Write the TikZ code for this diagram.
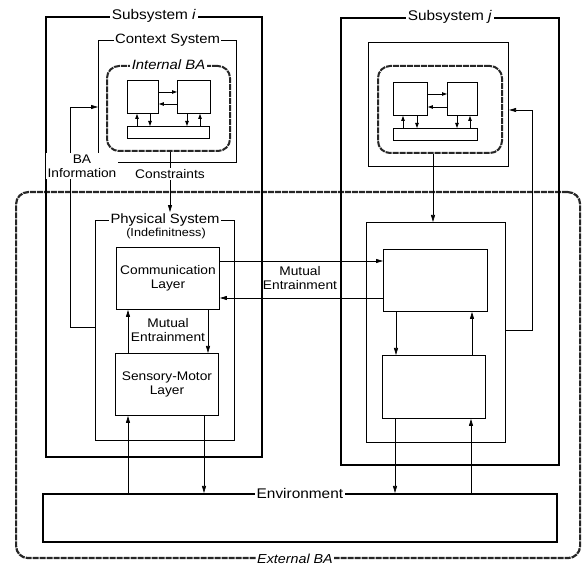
\documentclass[tikz,border=0pt]{standalone}
\usepackage{fontspec}
\setmainfont[FakeStretch=1.1]{Liberation Sans}
\usetikzlibrary{arrows.meta}
\begin{document}
\begin{tikzpicture}[x=1pt,y=-1pt,
 txt/.style={font=\fontsize{12.5}{14}\selectfont, inner sep=1pt, align=center},
 lbl/.style={txt, fill=white, inner sep=1.5pt},
 biglbl/.style={lbl, font=\fontsize{14}{16}\selectfont},
 bigbox/.style={draw, line width=1.8pt, anchor=north west, inner sep=0pt},
 midbox/.style={draw, line width=1.1pt, anchor=north west, inner sep=0pt},
 smallbox/.style={draw, line width=0.9pt, anchor=north west, inner sep=0pt},
 rough/.style={draw=black!85, line width=2.2pt, dash pattern=on 6pt off 1pt, rounded corners=12pt, anchor=north west, inner sep=0pt},
 arr/.style={line width=0.75pt, -{Triangle[length=7pt,width=4pt]}},
 iarr/.style={line width=0.8pt, -{Triangle[length=5pt,width=3.5pt]}},
]
\useasboundingbox (0,0) rectangle (582,569);

% external BA
\node[rough, minimum width=564pt, minimum height=366pt] (ext) at (15,191) {};

% subsystems
\node[bigbox, minimum width=216pt, minimum height=440pt] (subi) at (45,16) {};
\node[bigbox, minimum width=218pt, minimum height=447pt] (subj) at (340,17) {};
\node[biglbl] (subilbl) at (subi.north) {Subsystem \textit{i}};
\node[biglbl] (subjlbl) at (subj.north) {Subsystem \textit{j}};

% context systems
\node[midbox, minimum width=138pt, minimum height=122pt] (ctxi) at (98,40) {};
\node[midbox, minimum width=140pt, minimum height=124pt] (ctxj) at (368,42) {};
\node[biglbl, font=\fontsize{13.5}{15}\selectfont] (ctxilbl) at (ctxi.north) {Context System};

% internal BA
\node[rough, line width=2pt, minimum width=123pt, minimum height=85pt] (ibai) at (106,65) {};
\node[rough, line width=2pt, minimum width=124pt, minimum height=87pt] (ibaj) at (377,65) {};
\node[lbl, font=\fontsize{13.5}{15}\selectfont\itshape] (ibailbl) at (ibai.north) {Internal BA};

% inner boxes i
\node[smallbox, minimum width=31pt, minimum height=33pt] (ai) at (127,80) {};
\node[smallbox, minimum width=33pt, minimum height=33pt] (bi) at (177,80) {};
\node[smallbox, minimum width=82pt, minimum height=12pt] (ri) at (127,126) {};
\draw[iarr] (ai.east |- 0,92) -- (bi.west |- 0,92);
\draw[iarr] (bi.west |- 0,104) -- (ai.east |- 0,104);
\draw[iarr] (ri.north -| 137,0) -- (ai.south -| 137,0);
\draw[iarr] (ai.south -| 150,0) -- (ri.north -| 150,0);
\draw[iarr] (bi.south -| 187,0) -- (ri.north -| 187,0);
\draw[iarr] (ri.north -| 200,0) -- (bi.south -| 200,0);

% inner boxes j
\node[smallbox, minimum width=34pt, minimum height=33pt] (aj) at (393,82) {};
\node[smallbox, minimum width=30pt, minimum height=33pt] (bj) at (447,82) {};
\node[smallbox, minimum width=84pt, minimum height=12pt] (rj) at (393,128) {};
\draw[iarr] (aj.east |- 0,94) -- (bj.west |- 0,94);
\draw[iarr] (bj.west |- 0,107) -- (aj.east |- 0,107);
\draw[iarr] (rj.north -| 403,0) -- (aj.south -| 403,0);
\draw[iarr] (aj.south -| 417,0) -- (rj.north -| 417,0);
\draw[iarr] (bj.south -| 457,0) -- (rj.north -| 457,0);
\draw[iarr] (rj.north -| 470,0) -- (bj.south -| 470,0);

% physical systems
\node[midbox, minimum width=139pt, minimum height=220pt] (phyi) at (95,220) {};
\node[midbox, minimum width=139pt, minimum height=220pt] (phyj) at (366,222) {};
\node[biglbl, font=\fontsize{13.5}{15}\selectfont] (phyilbl) at (phyi.north) {Physical System};
\node[txt, font=\fontsize{11.5}{13}\selectfont] (indef) at (166,234) {(Indefinitness)};

% layers
\node[smallbox, minimum width=103pt, minimum height=62pt] (cli) at (116,247) {};
\node[smallbox, minimum width=103pt, minimum height=62pt] (smi) at (115,353) {};
\node[smallbox, minimum width=104pt, minimum height=62pt] (clj) at (383,249) {};
\node[smallbox, minimum width=103pt, minimum height=63pt] (smj) at (382,355) {};
\node[txt] (clitxt) at (cli.center) {Communication\\Layer};
\node[txt] (smitxt) at (smi.center) {Sensory-Motor\\Layer};

% environment
\node[bigbox, minimum width=514pt, minimum height=48pt] (env) at (42,493) {};
\node[biglbl] (envlbl) at (env.north) {Environment};
\node[lbl, font=\fontsize{13}{15}\selectfont\itshape] (extlbl) at (ext.south -| 295,0) {External BA};

% layer arrows
\draw[arr] (smi.north -| 128,0) -- (cli.south -| 128,0);
\draw[arr] (cli.south -| 208,0) -- (smi.north -| 208,0);
\draw[arr] (clj.south -| 396,0) -- (smj.north -| 396,0);
\draw[arr] (smj.north -| 472,0) -- (clj.south -| 472,0);
\node[txt] (mei) at (168,330) {Mutual\\Entrainment};

% between subsystems
\draw[arr] (cli.east |- 0,261) -- (clj.west |- 0,261);
\draw[arr] (clj.west |- 0,298) -- (cli.east |- 0,298);
\node[txt] (mem) at (300,278) {Mutual\\Entrainment};

% environment arrows
\draw[arr] (env.north -| 128,0) -- (smi.south -| 128,0);
\draw[arr] (smi.south -| 204,0) -- (env.north -| 204,0);
\draw[arr] (smj.south -| 395,0) -- (env.north -| 395,0);
\draw[arr] (env.north -| 471,0) -- (smj.south -| 471,0);

% constraints
\draw[arr] (ibai.south -| 170,0) -- (phyilbl.north -| 170,0);
\node[lbl, inner sep=1.5pt] (cons) at (170,174) {Constraints};
\draw[arr] (ibaj.south -| 433,0) -- (phyj.north -| 433,0);

% BA information feedback
\draw[arr] (phyi.west |- 0,327) -- (70,327) -- (70,107) -- (ctxi.west |- 0,107);
\node[lbl, inner sep=1.5pt] (bainfo) at (82,166) {BA\\Information};
\draw[arr] (phyj.east |- 0,330) -- (532,330) -- (532,110) -- (ctxj.east |- 0,110);

\end{tikzpicture}
\end{document}
